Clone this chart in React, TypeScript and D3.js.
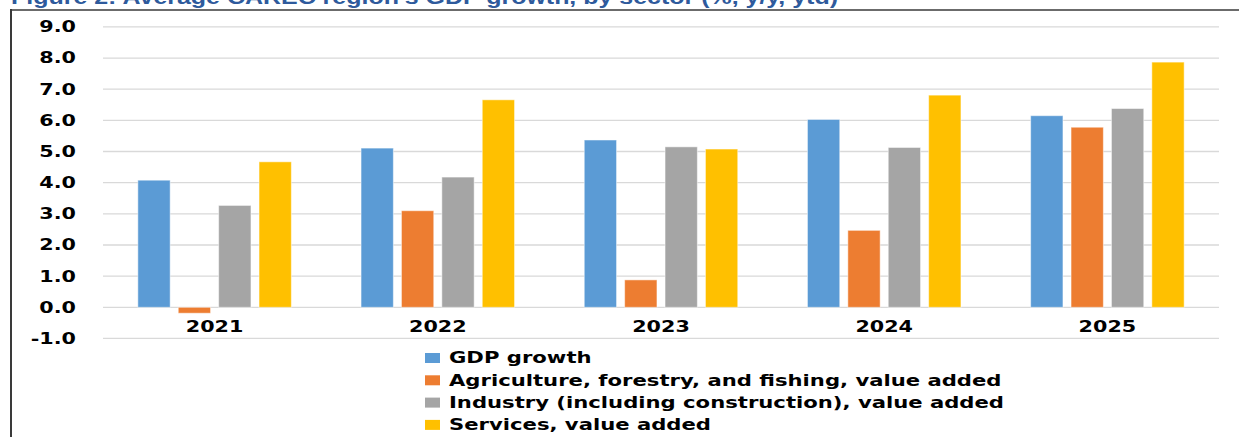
import React from "react";
import * as d3 from "d3";

const years = ["2021", "2022", "2023", "2024", "2025"];
const seriesNames = [
  "GDP growth",
  "Agriculture, forestry, and fishing, value added",
  "Industry (including construction), value added",
  "Services, value added",
];
const gdpGrowth = [4.08, 5.11, 5.37, 6.03, 6.15];
const agriculture = [-0.19, 3.1, 0.88, 2.47, 5.78];
const industry = [3.27, 4.18, 5.15, 5.13, 6.38];
const services = [4.67, 6.66, 5.08, 6.81, 7.87];
const seriesValues = [gdpGrowth, agriculture, industry, services];
const colors = ["#5B9BD5", "#ED7D31", "#A5A5A5", "#FFC000"];
const yTicks = [-1, 0, 1, 2, 3, 4, 5, 6, 7, 8, 9];
const title = "Figure 2: Average CAREC region's GDP growth, by sector (%, y/y, ytd)";

const W = 1239;
const H = 437;
const FONT = "'DejaVu Sans', Verdana, sans-serif";

function Wide({ x, y, anchor, size, sx, children }: any) {
  return (
    <text
      transform={`translate(${x},${y}) scale(${sx},1)`}
      dy="0.36em"
      textAnchor={anchor}
      fontFamily={FONT}
      fontWeight="bold"
      fontSize={size}
      fill="#000"
    >
      {children}
    </text>
  );
}

export default function App() {
  const plotLeft = 103;
  const plotRight = 1219;
  const y = d3.scaleLinear().domain([0, 9]).range([307.3, 26.9]);
  const x0 = d3
    .scaleBand<string>()
    .domain(years)
    .range([plotLeft, plotRight])
    .paddingInner(0.276)
    .paddingOuter(0.138);
  const x1 = d3
    .scaleBand<number>()
    .domain(d3.range(seriesNames.length))
    .range([0, x0.bandwidth()])
    .paddingInner(0.2)
    .paddingOuter(0.1);

  return (
    <svg
      width={W}
      height={H}
      style={{ position: "absolute", left: 0, top: 0, background: "#fff" }}
    >
      <text
        x={11}
        y={4}
        fontFamily="'Liberation Sans', Arial, sans-serif"
        fontWeight="bold"
        fontSize={20}
        fill="#2E5A9C"
        textLength={827}
        lengthAdjust="spacingAndGlyphs"
      >
        {title}
      </text>
      {/* frame */}
      <line x1={11} x2={W} y1={10} y2={10} stroke="#6b6b6b" strokeWidth={2} />
      <line x1={11} x2={11} y1={9} y2={H} stroke="#3a3a3a" strokeWidth={2} />

      {/* gridlines */}
      {yTicks.map((t) => (
        <line
          key={"g" + t}
          x1={plotLeft}
          x2={plotRight}
          y1={y(t)}
          y2={y(t)}
          stroke="#D9D9D9"
          strokeWidth={1.3}
        />
      ))}
      {/* y tick labels */}
      {yTicks.map((t) => (
        <Wide key={"t" + t} x={76} y={y(t)} anchor="end" size={15} sx={1.38}>
          {t.toFixed(1)}
        </Wide>
      ))}

      {/* bars */}
      {years.map((yr, i) => (
        <g key={yr} transform={`translate(${x0(yr)},0)`}>
          {seriesValues.map((vals, s) => {
            const v = vals[i];
            const top = y(Math.max(0, v));
            const bot = y(Math.min(0, v));
            return (
              <rect
                key={s}
                x={x1(s)}
                y={top}
                width={x1.bandwidth()}
                height={bot - top}
                fill={colors[s]}
                stroke="#ffffff"
                strokeOpacity={0.5}
                strokeWidth={1}
              />
            );
          })}
        </g>
      ))}

      {/* x labels */}
      {years.map((yr) => (
        <Wide
          key={"x" + yr}
          x={(x0(yr) as number) + x0.bandwidth() / 2}
          y={327}
          anchor="middle"
          size={15}
          sx={1.38}
        >
          {yr}
        </Wide>
      ))}

      {/* legend */}
      {seriesNames.map((name, s) => {
        const ly = 358 + s * 22.3;
        return (
          <g key={name}>
            <rect x={425} y={ly - 5} width={15} height={10} fill={colors[s]} />
            <Wide x={449} y={ly} anchor="start" size={15} sx={1.41}>
              {name}
            </Wide>
          </g>
        );
      })}
    </svg>
  );
}
